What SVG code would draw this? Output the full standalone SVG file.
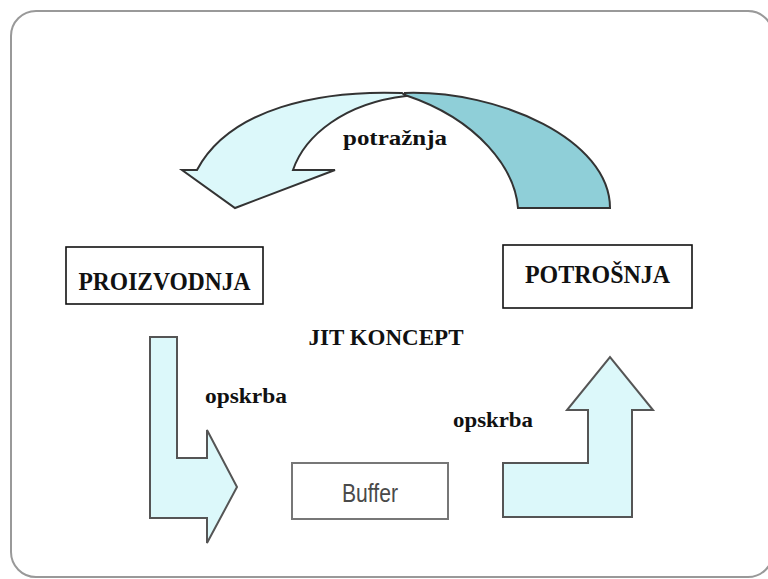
<svg xmlns="http://www.w3.org/2000/svg" width="768" height="579" viewBox="0 0 768 579">
<style>
.serif{font-family:"Liberation Serif","Times New Roman",serif;font-weight:bold;fill:#111}
.arrow{fill:#dcf8fa;stroke:#555;stroke-width:2;stroke-linejoin:miter}
.box{fill:#fff;stroke:#111;stroke-width:1.6}
</style>
<rect x="0" y="0" width="768" height="579" fill="#fff"/>
<rect id="frame" x="11" y="11" width="762" height="566" rx="25" ry="25" fill="#fff" stroke="#999" stroke-width="2"/>
<g id="connectors">
  <g id="demand-arrow">
    <path d="M405,93 C500,90 610,140 610,208 L518,208 C515,170 480,120 405,95 Z" fill="#8fcfd8" stroke="#333" stroke-width="2"/>
    <path d="M402,93 C320,90 230,108 197,170 L182,170 L235,208 L335,170 L293,170 C305,135 345,103 406,96 Z" fill="#dcf8fa" stroke="#333" stroke-width="2"/>
  </g>
  <polygon id="supply-left" class="arrow" points="150,337 177,337 177,458 207,458 207,430 237,487 207,543 207,518 150,518"/>
  <polygon id="supply-right" class="arrow" points="503,517 503,463 588,463 588,410 567,410 610,357 653,410 632,410 632,517"/>
</g>
<g id="proizvodnja">
  <rect class="box" x="66" y="247" width="197" height="57"/>
  <text class="serif" x="164.5" y="290" font-size="26" text-anchor="middle" textLength="172" lengthAdjust="spacingAndGlyphs">PROIZVODNJA</text>
</g>
<g id="potrosnja">
  <rect class="box" x="503" y="245" width="189" height="63"/>
  <text class="serif" x="597.5" y="283" font-size="26" text-anchor="middle" textLength="145" lengthAdjust="spacingAndGlyphs">POTROŠNJA</text>
</g>
<g id="buffer">
  <rect x="292" y="463" width="156" height="56" fill="#fff" stroke="#777" stroke-width="2"/>
  <text x="370" y="502" font-family="'Liberation Sans', Arial, sans-serif" font-size="26" fill="#4a4a4a" text-anchor="middle" textLength="56" lengthAdjust="spacingAndGlyphs">Buffer</text>
</g>
<g id="labels">
  <text class="serif" x="386" y="345" font-size="24" text-anchor="middle" textLength="155" lengthAdjust="spacingAndGlyphs">JIT KONCEPT</text>
  <text class="serif" x="395" y="145" font-size="22" text-anchor="middle" textLength="104" lengthAdjust="spacingAndGlyphs">potražnja</text>
  <text class="serif" x="246" y="403" font-size="22" text-anchor="middle" textLength="82" lengthAdjust="spacingAndGlyphs">opskrba</text>
  <text class="serif" x="493" y="427" font-size="22" text-anchor="middle" textLength="80" lengthAdjust="spacingAndGlyphs">opskrba</text>
</g>
</svg>
